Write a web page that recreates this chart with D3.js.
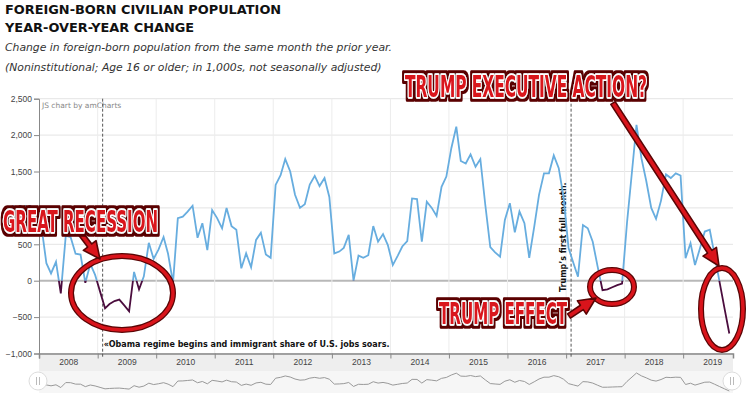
<!DOCTYPE html>
<html>
<head>
<meta charset="utf-8">
<title>Foreign-born civilian population, year-over-year change</title>
<style>
  body { margin: 0; background: #fff; }
  svg { display: block; font-family: "DejaVu Sans", Verdana, sans-serif; }
  .title { font-weight: bold; font-size: 12.9px; fill: #111; }
  .subtitle { font-style: italic; font-size: 10.8px; fill: #333; }
  .axis text { font-size: 8.5px; fill: #444; }
  .axis path, .axis line { stroke: #888; }
  .guide-label { font-weight: bold; font-size: 8px; fill: #111; }
  .callout { font-family: "DejaVu Sans Condensed", "DejaVu Sans", sans-serif; font-weight: bold; }
</style>
</head>
<body>
<script src="https://cdn.jsdelivr.net/npm/d3@7"></script>
<script>
// Year-over-year change, thousands of people, Jan..Dec for each year
var years = [2008, 2009, 2010, 2011, 2012, 2013, 2014, 2015, 2016, 2017, 2018, 2019];
var v2008 = [750, 240, 100, 260, -175, 620, 600, 370, 360, -30, 230, 80];
var v2009 = [-150, -380, -320, -280, -260, -340, -420, 120, -120, 60, 520, 300];
var v2010 = [430, 600, 370, -30, 860, 880, 950, 1030, 590, 790, 420, 970];
var v2011 = [860, 720, 1000, 750, 700, 170, 375, 185, 560, 660, 360, 315];
var v2012 = [1315, 1450, 1670, 1500, 1180, 1000, 1050, 1320, 1440, 1300, 1410, 1150];
var v2013 = [375, 400, 450, 630, 0, 345, 315, 350, 750, 535, 640, 490];
var v2014 = [215, 345, 470, 545, 1130, 1120, 535, 1085, 1000, 890, 1290, 1430];
var v2015 = [1820, 2115, 1645, 1610, 1735, 1565, 1670, 1040, 460, 390, 330, 835];
var v2016 = [1065, 665, 950, 790, 315, 740, 1180, 1475, 1475, 1720, 1545, 1150];
var v2017 = [450, 240, 55, 765, 720, 535, 200, -130, -120, -90, -60, -40];
var v2018 = [800, 1500, 2140, 1680, 1370, 1000, 850, 1100, 1460, 1410, 1475, 1445];
var v2019 = [310, 515, 215, 445, 675, 700, 355, -15, -380, -725];
var yearValues = [v2008, v2009, v2010, v2011, v2012, v2013, v2014, v2015, v2016, v2017, v2018, v2019];

var yTicks = [-1000, -500, 0, 500, 1000, 1500, 2000, 2500];

var guideDates = [new Date(2009, 1, 1), new Date(2017, 1, 1)];
var guideLabels = ["\u00abObama regime begins and immigrant share of U.S. jobs soars.", "Trump\u2019s first full month."];

var titleLines = ["FOREIGN-BORN CIVILIAN POPULATION", "YEAR-OVER-YEAR CHANGE"];
var subtitleLines = ["Change in foreign-born population from the same month the prior year.",
  "(Noninstitutional; Age 16 or older; in 1,000s, not seasonally adjusted)"];
var calloutTexts = ["GREAT RECESSION", "TRUMP EXECUTIVE ACTION?", "TRUMP EFFECT"];

// flatten into monthly points (plotted mid-month like amCharts does)
var data = [];
years.forEach(function (yr, k) {
  yearValues[k].forEach(function (v, m) {
    data.push({ date: new Date(yr, m, 16), value: v });
  });
});

var W = 750, H = 393;
var plot = { left: 39, right: 733, top: 98.7, bottom: 353.5 };

var svg = d3.select("body").append("svg")
  .attr("width", W).attr("height", H);

// titles
svg.selectAll(".title").data(titleLines).enter().append("text")
  .attr("class", "title").attr("x", 5).attr("y", function (d, i) { return 14 + i * 18; })
  .text(function (d) { return d; });
svg.selectAll(".subtitle").data(subtitleLines).enter().append("text")
  .attr("class", "subtitle").attr("x", 5).attr("y", function (d, i) { return 51 + i * 20; })
  .text(function (d) { return d; });

var x = d3.scaleTime()
  .domain([new Date(2008, 0, 1), new Date(2019, 10, 8)])
  .range([plot.left, plot.right]);
var y = d3.scaleLinear().domain([-1000, 2500]).range([plot.bottom, plot.top]);

// label band + scrollbar background
svg.append("rect").attr("x", plot.left).attr("y", plot.bottom)
  .attr("width", plot.right - plot.left).attr("height", 18).attr("fill", "#eeeeee");
svg.append("rect").attr("x", plot.left).attr("y", plot.bottom + 18)
  .attr("width", plot.right - plot.left).attr("height", H - plot.bottom - 18).attr("fill", "#f6f6f6");

// grid
var yearStarts = years.map(function (yr) { return new Date(yr, 0, 1); });
svg.append("g").selectAll("line").data(yTicks).enter().append("line")
  .attr("x1", plot.left).attr("x2", plot.right)
  .attr("y1", function (d) { return y(d); }).attr("y2", function (d) { return y(d); })
  .attr("stroke", function (d) { return d === 0 ? "#b8b8b8" : "#e4e4e4"; })
  .attr("stroke-width", function (d) { return d === 0 ? 2 : 1; });
svg.append("g").selectAll("line").data(yearStarts.slice(1)).enter().append("line")
  .attr("x1", function (d) { return x(d); }).attr("x2", function (d) { return x(d); })
  .attr("y1", plot.top).attr("y2", plot.bottom)
  .attr("stroke", "#ececec");

svg.append("text").attr("x", 42).attr("y", 108)
  .attr("font-size", "7.5px").attr("fill", "#888").text("JS chart by amCharts");

// y axis
svg.append("g").attr("class", "axis")
  .attr("transform", "translate(" + plot.left + ",0)")
  .call(d3.axisLeft(y).tickValues(yTicks).tickSize(5).tickPadding(2)
    .tickFormat(d3.format(",")));

// x axis: separators at Jan 1, labels mid-year
svg.append("g").attr("class", "axis")
  .attr("transform", "translate(0," + plot.bottom + ")")
  .call(d3.axisBottom(x).tickValues(yearStarts).tickSize(5).tickFormat(""))
  .call(function (g) { g.select(".domain").attr("stroke-width", 1.5); });
svg.append("g").attr("class", "axis")
  .attr("transform", "translate(0," + plot.bottom + ")")
  .call(d3.axisBottom(x).tickValues(years.map(function (yr) { return new Date(yr, 6, 1); }))
    .tickSize(0).tickPadding(5).tickFormat(d3.timeFormat("%Y")))
  .call(function (g) { g.select(".domain").remove(); g.selectAll("text").attr("font-size", "8px"); });

// guides
svg.append("g").selectAll("line").data(guideDates).enter().append("line")
  .attr("x1", function (d) { return x(d); }).attr("x2", function (d) { return x(d); })
  .attr("y1", plot.top).attr("y2", plot.bottom + 4)
  .attr("stroke", "#555").attr("stroke-dasharray", "3,2");
svg.append("text").attr("class", "guide-label")
  .attr("x", x(guideDates[0]) + 1).attr("y", plot.bottom - 7).text(guideLabels[0]);
svg.append("text").attr("class", "guide-label")
  .attr("transform", "translate(" + (x(guideDates[1]) - 5) + "," + 292 + ") rotate(-90)")
  .text(guideLabels[1]);

// line: blue above zero, dark purple below
var defs = svg.append("defs");
defs.append("clipPath").attr("id", "above").append("rect")
  .attr("x", plot.left).attr("y", 0).attr("width", plot.right - plot.left).attr("height", y(0));
defs.append("clipPath").attr("id", "below").append("rect")
  .attr("x", plot.left).attr("y", y(0)).attr("width", plot.right - plot.left).attr("height", plot.bottom - y(0));

// dark rim around the callout lettering
var f = defs.append("filter").attr("id", "rim")
  .attr("x", "-5%").attr("y", "-30%").attr("width", "110%").attr("height", "160%");
f.append("feMorphology").attr("in", "SourceAlpha").attr("operator", "dilate").attr("radius", 1.6).attr("result", "thick");
f.append("feFlood").attr("flood-color", "#5a0505");
f.append("feComposite").attr("in2", "thick").attr("operator", "in").attr("result", "outer");
var fm = f.append("feMerge");
fm.append("feMergeNode").attr("in", "outer");
fm.append("feMergeNode").attr("in", "SourceGraphic");

var line = d3.line().x(function (d) { return x(d.date); }).y(function (d) { return y(d.value); });
svg.append("path").datum(data).attr("d", line).attr("fill", "none")
  .attr("stroke", "#67addf").attr("stroke-width", 1.8).attr("clip-path", "url(#above)");
svg.append("path").datum(data).attr("d", line).attr("fill", "none")
  .attr("stroke", "#4b0d3e").attr("stroke-width", 1.8).attr("clip-path", "url(#below)");

// scrollbar preview
var ys = d3.scaleLinear().domain(d3.extent(data, function (d) { return d.value; })).range([391, 373]);
svg.append("path").datum(data)
  .attr("d", d3.line().x(function (d) { return x(d.date); }).y(function (d) { return ys(d.value); }))
  .attr("fill", "none").attr("stroke", "#999").attr("stroke-width", 1);
[plot.left - 1, plot.right - 1].forEach(function (gx) {
  var g = svg.append("g").attr("transform", "translate(" + gx + ",381)");
  g.append("circle").attr("r", 9).attr("fill", "#fff").attr("stroke", "#ddd");
  g.append("line").attr("x1", -1.5).attr("x2", -1.5).attr("y1", -4).attr("y2", 4).attr("stroke", "#bbb");
  g.append("line").attr("x1", 1.5).attr("x2", 1.5).attr("y1", -4).attr("y2", 4).attr("stroke", "#bbb");
});

// hand-drawn style annotations
var red = "#d9141b", dark = "#5a0505";
function ring(cx, cy, rx, ry) {
  svg.append("ellipse").attr("cx", cx).attr("cy", cy).attr("rx", rx).attr("ry", ry)
    .attr("fill", "none").attr("stroke", dark).attr("stroke-width", 6);
  svg.append("ellipse").attr("cx", cx).attr("cy", cy).attr("rx", rx).attr("ry", ry)
    .attr("fill", "none").attr("stroke", red).attr("stroke-width", 3.5);
}
function arrow(x1, y1, x2, y2) {
  var a = Math.atan2(y2 - y1, x2 - x1), len = Math.hypot(x2 - x1, y2 - y1);
  var hl = 17, hw = 8, sw = 2.6;
  var pts = [[0, -sw], [len - hl, -sw], [len - hl, -hw], [len, 0], [len - hl, hw], [len - hl, sw], [0, sw]];
  svg.append("polygon")
    .attr("points", pts.map(function (p) { return p.join(","); }).join(" "))
    .attr("transform", "translate(" + x1 + "," + y1 + ") rotate(" + (a * 180 / Math.PI) + ")")
    .attr("fill", red).attr("stroke", dark).attr("stroke-width", 1.6).attr("stroke-linejoin", "round");
}
// tall narrow poster lettering: small font stretched vertically
function callout(txt, tx, ty, len) {
  svg.append("g").attr("transform", "translate(" + tx + "," + ty + ") scale(1,1.76)")
    .append("text").attr("class", "callout")
    .attr("font-size", "17px").attr("textLength", len).attr("lengthAdjust", "spacingAndGlyphs")
    .attr("fill", red).attr("stroke", "#fff").attr("stroke-width", 2)
    .attr("stroke-linejoin", "round").attr("paint-order", "stroke")
    .attr("filter", "url(#rim)")
    .text(txt);
}

ring(122, 293, 51, 37);
ring(612, 287, 22, 17);
ring(722, 309, 21, 41);
arrow(81, 234, 100, 259);
arrow(613, 103, 719, 266);
arrow(569, 316, 596, 298);
callout(calloutTexts[0], 3, 232, 155);
callout(calloutTexts[1], 405, 96.5, 242);
callout(calloutTexts[2], 439, 324, 128);
</script>
</body>
</html>
